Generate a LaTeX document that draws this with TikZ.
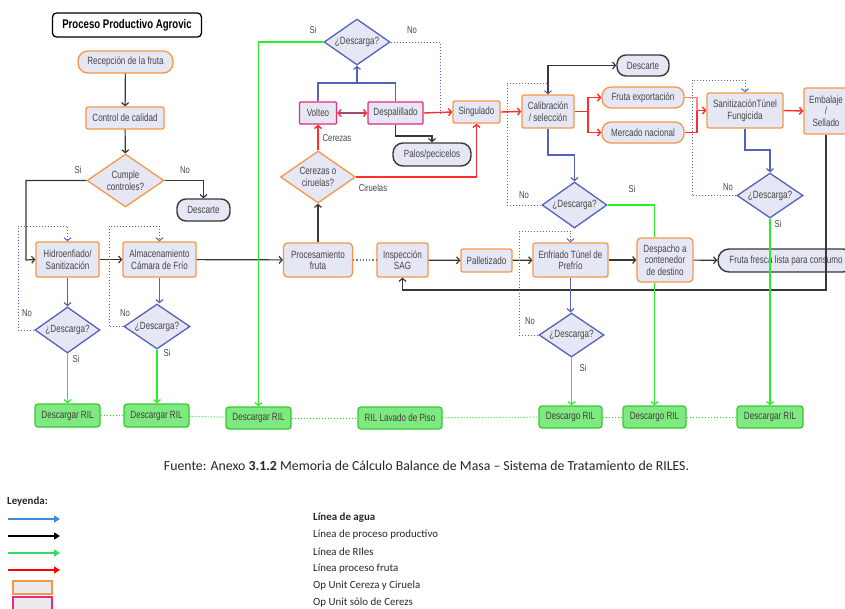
\documentclass[tikz,border=0pt]{standalone}
\usepackage{fontspec}
\setmainfont{Liberation Sans}
\newfontfamily\diag{Liberation Sans}[FakeStretch=0.77]
\newfontfamily\calfont{Carlito}
\usetikzlibrary{arrows.meta,shapes.geometric,calc}
\definecolor{org}{RGB}{247,150,70}
\definecolor{lav}{RGB}{229,231,244}
\definecolor{pnk}{RGB}{232,40,130}
\definecolor{blu}{RGB}{84,98,186}
\definecolor{grn}{RGB}{40,240,40}
\definecolor{gfill}{RGB}{128,232,128}
\definecolor{gdraw}{RGB}{50,205,50}
\definecolor{rdc}{RGB}{255,45,45}
\definecolor{blk}{RGB}{55,55,55}
\definecolor{txt}{RGB}{70,70,70}
\definecolor{lgblue}{RGB}{60,140,220}
\definecolor{lggreen}{RGB}{50,220,100}
\definecolor{lggray}{RGB}{235,235,235}
\tikzset{
  base/.style={inner sep=0pt, align=center, text=txt, font=\diag\fontsize{10.5}{11.5}\selectfont, line width=1.3pt, fill=lav},
  obox/.style={base, rectangle, rounded corners=2pt, draw=org},
  pbox/.style={base, rectangle, rounded corners=1pt, draw=pnk},
  opill/.style={base, rectangle, rounded corners=9pt, draw=org},
  kpill/.style={base, rectangle, rounded corners=9pt, draw=blk, line width=1.4pt},
  odia/.style={base, diamond, aspect=1.45, draw=org},
  bdia/.style={base, diamond, aspect=1.45, draw=blu},
  gbox/.style={base, rectangle, rounded corners=3pt, draw=gdraw, fill=gfill, text=black!75},
  lbl/.style={text=txt, font=\diag\fontsize{10}{11}\selectfont, inner sep=0pt},
  tip/.style={-{Straight Barb[length=3pt,width=7pt]}},
  bk/.style={draw=blk, line width=1.2pt},
  bl/.style={draw=blu, line width=1.2pt},
  gn/.style={draw=grn, line width=1.2pt},
  rdl/.style={draw=rdc, line width=1.4pt},
  dotb/.style={draw=blu, line width=1pt, dotted},
  dotg/.style={draw=grn!90!black, line width=1pt, dotted},
  dotk/.style={draw=blk!70, line width=1.2pt, dotted},
  legtxt/.style={font=\calfont\fontsize{10.9}{12}\selectfont, anchor=west, inner sep=0pt, text=black!85}
}
\begin{document}
\begin{tikzpicture}[x=1pt,y=-1pt]
\useasboundingbox (0,0) rectangle (845,608);
% ---------- nodes ----------
\node[base, rectangle, rounded corners=4pt, draw=black, fill=white, text=black, minimum width=149pt, minimum height=24pt, font=\diag\bfseries\fontsize{12.5}{14}\selectfont] (title) at (127,25) {Proceso Productivo Agrovic};
\node[opill, rounded corners=10pt, minimum width=95pt, minimum height=22pt] (rec) at (125.5,62) {Recepción de la fruta};
\node[obox, minimum width=78pt, minimum height=22pt] (ctrl) at (125,118) {Control de calidad};
\node[odia, minimum width=77pt, minimum height=53pt] (cump) at (125.5,180.5) {Cumple\\controles?};
\node[kpill, minimum width=53pt, minimum height=22pt] (desc1) at (203.5,210) {Descarte};
\node[obox, minimum width=63pt, minimum height=35pt] (hidro) at (67.5,259.5) {Hidroenfiado/\\Sanitización};
\node[obox, minimum width=73pt, minimum height=35pt] (alma) at (159.5,259.5) {Almacenamiento\\Cámara de Frío};
\node[obox, rounded corners=4pt, minimum width=69pt, minimum height=34pt] (proc) at (318,260) {Procesamiento\\fruta};
\node[bdia, minimum width=65pt, minimum height=46pt] (d1) at (67.5,330) {¿Descarga?};
\node[bdia, minimum width=66pt, minimum height=45pt] (d2) at (157,326.5) {¿Descarga?};
\node[bdia, minimum width=66pt, minimum height=46pt] (dtop) at (357,42) {¿Descarga?};
\node[pbox, minimum width=37pt, minimum height=22pt] (volteo) at (318,113) {Volteo};
\node[pbox, minimum width=55pt, minimum height=22pt] (despal) at (395.5,113) {Despalillado};
\node[obox, minimum width=47pt, minimum height=22pt] (sing) at (476.5,112) {Singulado};
\node[kpill, rounded corners=10pt, minimum width=78pt, minimum height=23pt] (palos) at (432,154.5) {Palos/pecicelos};
\node[odia, minimum width=75pt, minimum height=52pt] (cer) at (318,177) {Cerezas o\\ciruelas?};
\node[obox, minimum width=52pt, minimum height=33pt] (calib) at (548,111.5) {Calibración\\/ selección};
\node[opill, minimum width=82pt, minimum height=21pt] (fexp) at (643,97.5) {Fruta exportación};
\node[opill, minimum width=82pt, minimum height=21pt] (mnac) at (643,132.5) {Mercado nacional};
\node[kpill, minimum width=52pt, minimum height=21pt] (desc2) at (643,65.5) {Descarte};
\node[obox, minimum width=76pt, minimum height=35pt] (sanit) at (745,110.5) {SanitizaciónTúnel\\Fungicida};
\node[obox, minimum width=44pt, minimum height=46pt] (emb) at (826,111) {Embalaje\\/\\Sellado};
\node[bdia, minimum width=65pt, minimum height=46pt] (d3) at (574.5,205) {¿Descarga?};
\node[bdia, minimum width=66pt, minimum height=45pt] (d4) at (770,195.5) {¿Descarga?};
\node[bdia, minimum width=65pt, minimum height=44pt] (d5) at (571.5,335) {¿Descarga?};
\node[obox, minimum width=51pt, minimum height=34pt] (insp) at (402.5,260) {Inspección\\SAG};
\node[obox, minimum width=51pt, minimum height=23pt] (pall) at (486.5,260.5) {Palletizado};
\node[obox, minimum width=75pt, minimum height=34pt] (enf) at (570.5,260) {Enfriado Túnel de\\Prefrío};
\node[obox, rounded corners=4pt, minimum width=56pt, minimum height=44pt] (desp) at (665,260) {Despacho a\\contenedor\\de destino};
\node[kpill, rounded corners=11pt, minimum width=136pt, minimum height=23pt] (ffr) at (786,260.5) {Fruta fresca lista para consumo};
% green boxes
\node[gbox, minimum width=65pt, minimum height=23pt] (r1) at (67.5,415.5) {Descargar RIL};
\node[gbox, minimum width=65pt, minimum height=23pt] (r2) at (156.5,415.5) {Descargar RIL};
\node[gbox, minimum width=65pt, minimum height=22pt] (r3) at (258.5,418) {Descargar RIL};
\node[gbox, minimum width=84pt, minimum height=22pt] (r4) at (400,418) {RIL Lavado de Piso};
\node[gbox, minimum width=63pt, minimum height=22pt] (r5) at (570.5,417) {Descargo RIL};
\node[gbox, minimum width=63pt, minimum height=22pt] (r6) at (654.5,417) {Descargo RIL};
\node[gbox, minimum width=66pt, minimum height=22pt] (r7) at (770,417) {Descargar RIL};
% ---------- coordinates ----------
\coordinate (cj) at (26,260);
\coordinate (l1) at (18,226);
\coordinate (l2) at (109,226);
\coordinate (l3) at (507,83);
\coordinate (l4) at (692,80);
\coordinate (l5) at (519,231);
\coordinate (l6) at (440,113);
\coordinate (bj) at (357,83);
\coordinate (pj) at (432,136);
\coordinate (cb) at (588,111.5);
\coordinate (rj) at (697,110.5);
\coordinate (c3) at (548,155);
\coordinate (c4) at (745,150);
\coordinate (lowy) at (0,290);
% ---------- black process lines ----------
\draw[bk,tip] (rec) -- (ctrl);
\draw[bk,tip] (ctrl) -- (cump);
\draw[bk,tip] (cump.west) -| (cj) -- (hidro.west);
\draw[bk,tip] (cump.east) -| (desc1.north);
\draw[bk,tip] (hidro) -- (alma);
\draw[bk,tip] (alma) -- (proc);
\draw[bk,tip] (proc.north) -- (cer.south);
\draw[dotk] (proc) -- (insp);
\draw[bk,tip] (insp) -- (pall);
\draw[bk,tip] (pall) -- (enf);
\draw[bk,tip] (enf) -- (desp);
\draw[bk,tip] (desp) -- (ffr);
\draw[bk,tip] (emb.south) -- (emb.south |- lowy) -| (insp.south);
\draw[bk,tip] (despal.south) |- (pj) -- (palos.north);
\draw[bk,tip] (calib.north) |- (desc2.west);
% ---------- red fruit lines ----------
\draw[rdl,tip] (cer.north) -- (volteo.south);
\draw[rdl,tip] (cer.east) -| (sing.south);
\draw[rdl,{Straight Barb[length=3pt,width=7pt]}-{Straight Barb[length=3pt,width=7pt]}] (volteo.east) -- (despal.west);
\draw[bl, line width=0.7pt, shorten <=3pt, shorten >=3pt] (volteo.east) -- (despal.west);
\draw[rdl,tip] (despal.east) -- (sing.west);
\draw[rdl,tip] (sing.east) -- (calib.west);
\draw[rdl] (calib.east) -- (cb);
\draw[rdl,tip] (cb) |- (fexp.west);
\draw[rdl,tip] (cb) |- (mnac.west);
\draw[rdl, draw=rdc!60] (fexp.east) -| (rj);
\draw[rdl] (mnac.east) -| (rj);
\draw[rdl,tip] (rj) -- (sanit.west);
\draw[rdl,tip] (sanit.east) -- (emb.west);
% ---------- blue water lines ----------
\draw[bl] (volteo.north) |- (bj) -| (despal.north);
\draw[bl,tip] (bj) -- (dtop.south);
\draw[bl,tip] (hidro) -- (d1);
\draw[bl,tip] (alma.south) -- (alma.south |- d2.north);
\draw[bl,tip] (enf.south) -- (enf.south |- d5.north);
\draw[bl,tip] (calib.south) -- (c3) -| (d3.north);
\draw[bl,tip] (sanit.south) -- (c4) -| (d4.north);
% ---------- dotted "No" loops ----------
\draw[dotb,tip] (d1.west) -| (l1) -- (hidro.north |- l1) -- (hidro.north);
\draw[dotb,tip] (d2.west) -| (l2) -- (alma.north |- l2) -- (alma.north);
\draw[dotb,tip] (d3.west) -| (l3) -- (calib.north |- l3) -- (calib.north);
\draw[dotb,tip] (d4.west) -| (l4) -- (sanit.north |- l4) -- (sanit.north);
\draw[dotb,tip] (d5.west) -| (l5) -- (enf.north |- l5) -- (enf.north);
\draw[dotb] (dtop.east) -| (l6);
% ---------- green RIL lines ----------
\draw[gn,tip] (dtop.west) -| (r3.north);
\draw[gn,tip] (d1) -- (r1);
\draw[gn,tip] (d2.south) -- (d2.south |- r2.north);
\draw[gn,tip] (d5.south) -- (d5.south |- r5.north);
\draw[gn,tip] (d4) -- (r7);
\draw[gn] (d3.east) -| (r6.north |- desp.north);
\draw[gn,tip] (r6.north |- desp.south) -- (r6.north);
\draw[dotg] (r1) -- (r2);
\draw[dotg] (r2) -- (r3);
\draw[dotg] (r3) -- (r4);
\draw[dotg] (r4) -- (r5);
\draw[dotg] (r5) -- (r6);
\draw[dotg] (r6) -- (r7);
% ---------- labels ----------
\node[lbl] (s0) at (78,170) {Si};
\node[lbl] (n0) at (185,170) {No};
\node[lbl] (n1) at (27,313) {No};
\node[lbl] (s1) at (76,359) {Si};
\node[lbl] (n2) at (125,313) {No};
\node[lbl] (s2) at (167,353) {Si};
\node[lbl] (st) at (313,30) {Si};
\node[lbl] (nt) at (412,30) {No};
\node[lbl] (n3) at (524,195) {No};
\node[lbl] (s3) at (632,189) {Si};
\node[lbl] (n4) at (728,187) {No};
\node[lbl] (s4) at (778,224) {Si};
\node[lbl] (n5) at (530,321) {No};
\node[lbl] (s5) at (583,368) {Si};
\node[lbl] (lcer) at (337,138) {Cerezas};
\node[lbl] (lcir) at (373,188) {Ciruelas};
% ---------- caption ----------
\node[font=\calfont\fontsize{13.8}{15}\selectfont, inner sep=0pt, text=black!85] (cap) at (426.5,466) {Fuente: Anexo \textbf{3.1.2} Memoria de Cálculo Balance de Masa – Sistema de Tratamiento de RILES.};
% ---------- legend ----------
\node[legtxt, font=\calfont\bfseries\fontsize{10.9}{12}\selectfont] (ley) at (7,502) {Leyenda:};
\coordinate (a1s) at (8,519); \coordinate (a1e) at (60,519);
\coordinate (a2s) at (8,536); \coordinate (a2e) at (60,536);
\coordinate (a3s) at (8,553); \coordinate (a3e) at (60,553);
\coordinate (a4s) at (8,570); \coordinate (a4e) at (60,570);
\draw[lgblue, line width=1.5pt, -{Triangle[length=6pt,width=7pt]}] (a1s) -- (a1e);
\draw[black, line width=1.5pt, -{Triangle[length=6pt,width=7pt]}] (a2s) -- (a2e);
\draw[lggreen, line width=1.5pt, -{Triangle[length=6pt,width=7pt]}] (a3s) -- (a3e);
\draw[red, line width=1.5pt, -{Triangle[length=6pt,width=7pt]}] (a4s) -- (a4e);
\node[draw=org, line width=2pt, fill=lggray, minimum width=39pt, minimum height=13pt, inner sep=0pt] (lb1) at (32,587) {};
\node[draw=pnk, line width=2pt, fill=lggray, minimum width=39pt, minimum height=13pt, inner sep=0pt] (lb2) at (32,603) {};
\node[legtxt, font=\calfont\bfseries\fontsize{10.9}{12}\selectfont] (t1) at (313,518) {Línea de agua};
\node[legtxt] (t2) at (313,535) {Línea de proceso productivo};
\node[legtxt] (t3) at (313,552) {Línea de RIles};
\node[legtxt] (t4) at (313,569) {Línea proceso fruta};
\node[legtxt] (t5) at (313,586) {Op Unit Cereza y Ciruela};
\node[legtxt] (t6) at (313,603) {Op Unit sólo de Cerezs};
\end{tikzpicture}
\end{document}
